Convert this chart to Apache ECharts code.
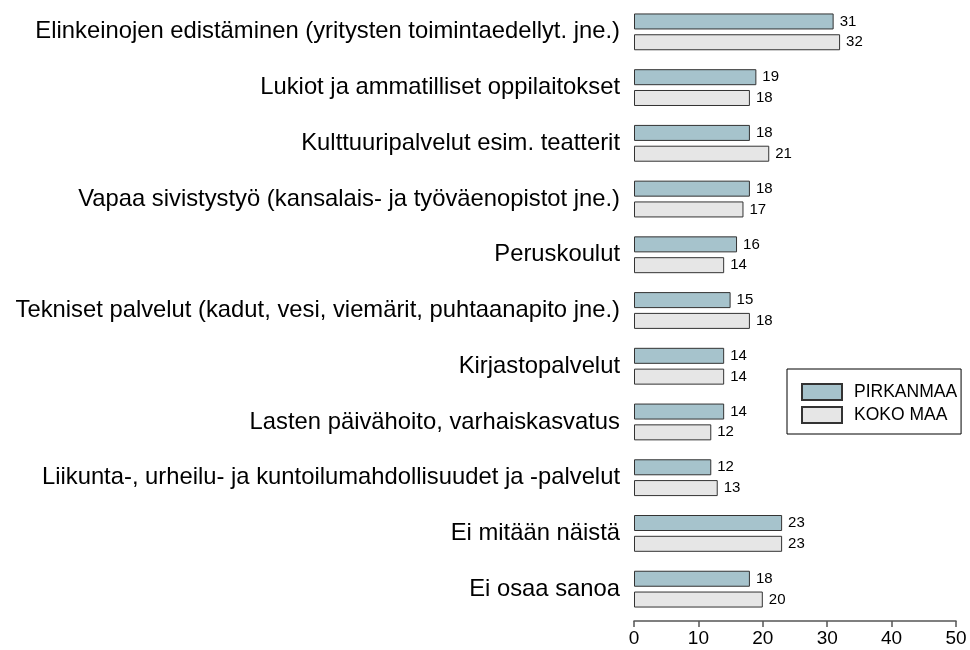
<!DOCTYPE html>
<html><head><meta charset="utf-8">
<script src="https://cdn.jsdelivr.net/npm/echarts@6/dist/echarts.min.js"></script>
<style>html,body{margin:0;padding:0;background:#fff}#c{width:970px;height:650px}</style>
</head><body><div id="c"></div>
<script>
const categories = [
  "Elinkeinojen edistäminen (yritysten toimintaedellyt. jne.)",
  "Lukiot ja ammatilliset oppilaitokset",
  "Kulttuuripalvelut esim. teatterit",
  "Vapaa sivistystyö (kansalais- ja työväenopistot jne.)",
  "Peruskoulut",
  "Tekniset palvelut (kadut, vesi, viemärit, puhtaanapito jne.)",
  "Kirjastopalvelut",
  "Lasten päivähoito, varhaiskasvatus",
  "Liikunta-, urheilu- ja kuntoilumahdollisuudet ja -palvelut",
  "Ei mitään näistä",
  "Ei osaa sanoa"
];
const pirkanmaa = [31, 19, 18, 18, 16, 15, 14, 14, 12, 23, 18];
const kokoMaa = [32, 18, 21, 17, 14, 18, 14, 12, 13, 23, 20];
const xTicks = [0, 10, 20, 30, 40, 50];

const font = "'Liberation Sans', Arial, sans-serif";
const chart = echarts.init(document.getElementById('c'));
const lbl = {show: true, position: 'right', distance: 6, color: '#000', fontSize: 15, fontFamily: font};
chart.setOption({
  animation: false,
  grid: {left: 634, right: 14, top: 4, bottom: 33, containLabel: false},
  legend: {
    orient: 'vertical', left: 787, top: 369,
    padding: [14, 4, 10, 14], itemGap: 5,
    itemWidth: 40, itemHeight: 16, icon: 'rect',
    borderColor: '#000', borderWidth: 1,
    textStyle: {fontSize: 17.5, lineHeight: 16, fontFamily: font, color: '#000', padding: [0, 0, 0, 7]},
    data: ['PIRKANMAA', 'KOKO MAA']
  },
  xAxis: {
    type: 'value', min: xTicks[0], max: xTicks[xTicks.length - 1], interval: 10,
    offset: 4,
    axisLine: {show: true, lineStyle: {color: '#555', width: 1.5}},
    axisTick: {show: true, length: 6, lineStyle: {color: '#555', width: 1.5}},
    splitLine: {show: false},
    axisLabel: {fontSize: 19, fontFamily: font, color: '#000', margin: 8}
  },
  yAxis: {
    type: 'category', data: categories, inverse: true,
    axisLine: {show: false}, axisTick: {show: false},
    axisLabel: {fontSize: 23.8, fontFamily: font, color: '#000', margin: 14}
  },
  series: [
    {name: 'PIRKANMAA', type: 'bar', data: pirkanmaa, barWidth: 16, barGap: '30%',
     itemStyle: {color: '#a6c3cc', borderColor: '#333', borderWidth: 1}, label: lbl},
    {name: 'KOKO MAA', type: 'bar', data: kokoMaa, barWidth: 16, barGap: '30%',
     itemStyle: {color: '#e6e6e6', borderColor: '#333', borderWidth: 1}, label: lbl}
  ]
});
</script></body></html>
